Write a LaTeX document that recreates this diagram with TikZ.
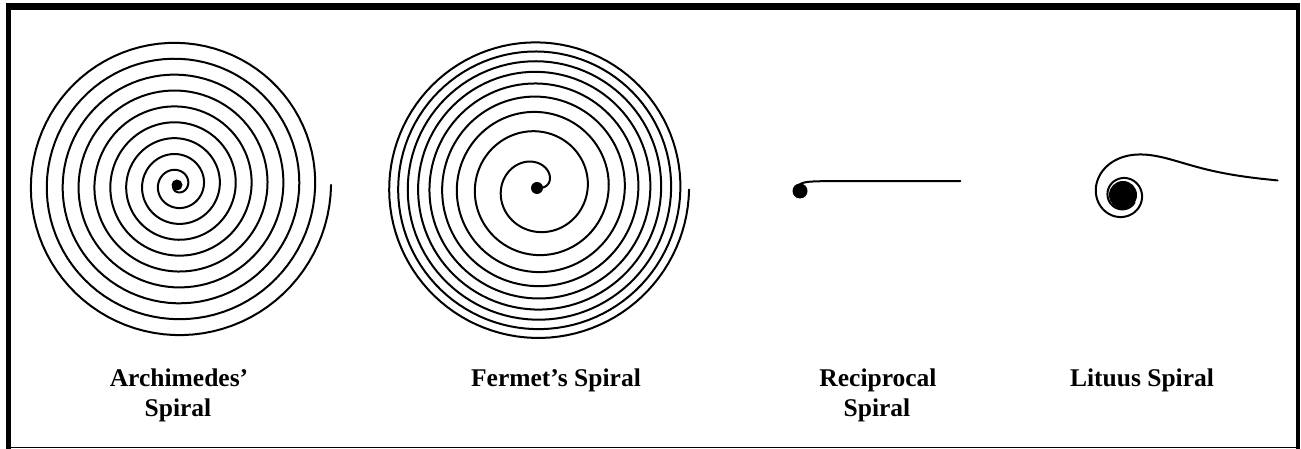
\documentclass[tikz,border=0pt]{standalone}
\usepackage{fontspec}
\setmainfont{Liberation Serif}
\usepackage{tikz}

\tikzset{
  curve/.style={line width=2pt, line join=round, line cap=round},
  lbl/.style={font=\fontsize{25.5}{30}\selectfont\bfseries, anchor=base, inner sep=0pt}
}

\begin{document}
\begin{tikzpicture}[x=1pt,y=1pt]
    \useasboundingbox (0,0) rectangle (1301,449);
    %% frame
    \draw[line width=5pt] (8.5,0) -- (8.5,442.5);
    \draw[line width=6.5pt] (5.5,442.5) -- (1298,442.5);
    \draw[line width=4pt] (1298,445.7) -- (1298,0);
    \draw[line width=1.5pt] (6,1.5) -- (1296,1.5);
    %% archimedes: r = b t
    \draw[curve] plot[domain=1.2:60.9, samples=900, variable=\t]
        ({177 + 2.53*\t*cos((\t-4.35) r)}, {264 + 2.53*\t*sin((\t-4.35) r)});
    \fill (177,264) circle (5.5);
    %% fermat: r = c sqrt(t)
    \draw[curve] plot[domain=0:56.55, samples=1000, variable=\t]
        ({537 + 50.7*sqrt(\t/6.2832)*cos(\t r)}, {261 + 50.7*sqrt(\t/6.2832)*sin(\t r)});
    \fill (537,261) circle (6);
    %% reciprocal: r = a/t
    \draw[curve] plot[domain=0.056:20, samples=500, variable=\t]
        ({800 + 9/\t*cos(\t r)}, {259 + 9/\t*sin(\t r)});
    \fill (800,258) circle (7.5);
    %% lituus: r^2 = a^2/t
    \draw[curve] plot[domain=0.094:12, samples=500, variable=\t]
        ({1123 + 47.6/sqrt(\t)*cos(\t r)}, {254 + 47.6/sqrt(\t)*sin(\t r)});
    \fill (1123,254) circle (14);
    %% labels
    \node[lbl] (arch1) at (179,62) {Archimedes’};
    \node[lbl] (arch2) at (178,32) {Spiral};
    \node[lbl] (ferm) at (556,62) {Fermet’s Spiral};
    \node[lbl] (reci1) at (878,62) {Reciprocal};
    \node[lbl] (reci2) at (877,32) {Spiral};
    \node[lbl] (litu) at (1142,62) {Lituus Spiral};
\end{tikzpicture}
\end{document}
